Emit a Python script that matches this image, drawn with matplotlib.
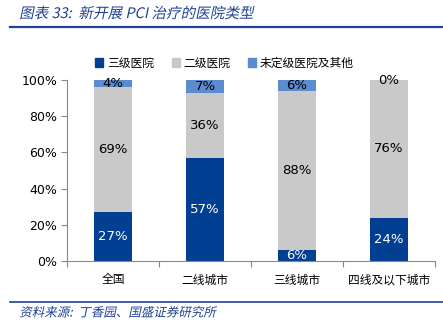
import math
import matplotlib
matplotlib.use("Agg")
import matplotlib.pyplot as plt
from matplotlib.lines import Line2D
from matplotlib.patches import Rectangle
from matplotlib.patheffects import AbstractPathEffect
from matplotlib.transforms import Affine2D

plt.rcParams['font.family'] = ['Noto Sans CJK SC', 'DejaVu Sans']

categories = ["全国", "二线城市", "三线城市", "四线及以下城市"]
series_names = ["三级医院", "二级医院", "未定级医院及其他"]
tertiary = [27, 57, 6, 24]
secondary = [69, 36, 88, 76]
other = [4, 7, 6, 0]
yticks = [0, 20, 40, 60, 80, 100]

colors = ["#003F91", "#C9C9C9", "#5B8CCF"]
label_colors = ["white", "black", "black"]
title_color = "#1F4296"

W, H = 443, 324


class Oblique(AbstractPathEffect):
    """Slant glyph outlines around a horizontal baseline (faux italic for CJK fonts)."""

    def __init__(self, y0, angle=12):
        super().__init__()
        self.y0 = y0
        self.k = math.tan(math.radians(angle))

    def draw_path(self, renderer, gc, tpath, affine, rgbFace=None):
        slant = (Affine2D().translate(0, -self.y0)
                 + Affine2D([[1, self.k, 0], [0, 1, 0], [0, 0, 1]])
                 + Affine2D().translate(0, self.y0))
        renderer.draw_path(gc, tpath, affine + slant, rgbFace)


fig = plt.figure(figsize=(W / 100, H / 100), dpi=100)
ax = fig.add_axes([67 / W, 1 - 261 / H, (435 - 67) / W, (261 - 80) / H])

x = list(range(len(categories)))
bottoms = [0] * len(categories)
for name, vals, c, lc in zip(series_names, [tertiary, secondary, other], colors, label_colors):
    ax.bar(x, vals, width=0.41, bottom=bottoms, color=c, label=name, zorder=2)
    for xi, v, b in zip(x, vals, bottoms):
        ax.text(xi, b + v / 2, f"{v}%", ha="center", va="center", color=lc,
                fontsize=9.5, family="DejaVu Sans", zorder=3)
    bottoms = [b + v for b, v in zip(bottoms, vals)]

ax.set_xlim(-0.5, len(categories) - 0.5)
ax.set_ylim(0, 100)
ax.set_yticks(yticks)
ax.set_yticklabels([f"{t}%" for t in yticks], family="DejaVu Sans", fontsize=9)
ax.set_xticks(x)
ax.set_xticklabels(categories, fontsize=8.5)
ax.tick_params(axis="x", length=0, pad=9)
ax.tick_params(axis="y", length=4, width=0.8, color="#888888", pad=3)
# category boundary ticks under the x axis
ax.set_xticks([i - 0.5 for i in range(len(categories) + 1)], minor=True)
ax.tick_params(axis="x", which="minor", length=4, width=0.8, color="#888888", direction="out")

for s in ["top", "right"]:
    ax.spines[s].set_visible(False)
for s in ["left", "bottom"]:
    ax.spines[s].set_color("#888888")
    ax.spines[s].set_linewidth(0.8)

# legend
handles = [Rectangle((0, 0), 1, 1, color=c) for c in colors]
fig.legend(handles, series_names, loc="center", bbox_to_anchor=(0.5 + 3 / W, 1 - 63 / H),
           ncol=3, frameon=False, fontsize=8.5, handlelength=0.7, handleheight=0.7,
           handletextpad=0.3, columnspacing=1.5)

# header and footer
title_y = H - 14
fig.text(20 / W, title_y / H, "图表 33:  新开展 PCI 治疗的医院类型", color=title_color,
         fontsize=10.5, va="center", ha="left",
         path_effects=[Oblique(title_y)])
fig.add_artist(Line2D([10 / W, 1], [1 - 27 / H] * 2, color=title_color, lw=1.6))
fig.add_artist(Line2D([10 / W, 1], [1 - 302 / H] * 2, color=title_color, lw=1.2))
source_y = H - 313
fig.text(20 / W, source_y / H, "资料来源:  丁香园、国盛证券研究所", color=title_color,
         fontsize=9, va="center", ha="left",
         path_effects=[Oblique(source_y)])

fig.savefig("out.png", dpi=100)
